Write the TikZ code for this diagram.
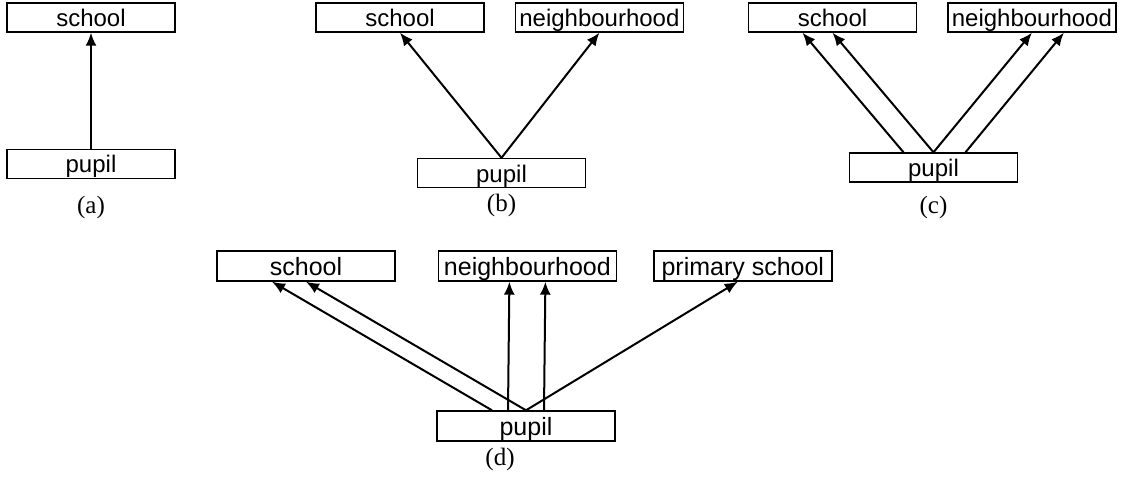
\documentclass[tikz,border=0pt]{standalone}
\usepackage{fontspec}
\setmainfont{Liberation Serif}
\setsansfont{Liberation Sans}
\usepackage{tikz}
\usetikzlibrary{arrows.meta,positioning}

\begin{document}
\begin{tikzpicture}[
  x=0.5pt, y=-0.5pt,
  box/.style={draw, line width=0.7pt, inner sep=0pt, minimum width=84pt, minimum height=14.5pt,
    text height=0.95em, text depth=0.05em, font=\sffamily\fontsize{12}{14}\selectfont},
  bigbox/.style={box, minimum width=89pt, minimum height=15pt, font=\sffamily\fontsize{12.5}{14}\selectfont},
  lbl/.style={inner sep=0pt, font=\fontsize{12.5}{14}\selectfont},
  arr/.style={-{Latex[length=6.5pt,width=5.5pt]}, line width=1pt}
]
\useasboundingbox (0,0) rectangle (1121,477);
% (a)
\node[box] (sA) at (91,17.5) {school};
\node[box, below=58pt of sA] (pA) {pupil};
\node[lbl] (lA) at (91,207) {(a)};
\draw[arr] (pA) -- (sA);
% (b)
\node[box] (sB) at (400,17.5) {school};
\node[box, right=15pt of sB] (nB) {neighbourhood};
\node[box] (pB) at (501.5,173) {pupil};
\node[lbl] (lB) at (501.5,205) {(b)};
\draw[arr] (pB.north) -- (sB.south);
\draw[arr] (pB.north) -- (nB.south);
% (c)
\node[box] (sC) at (832.5,17.5) {school};
\node[box, right=15pt of sC] (nC) {neighbourhood};
\node[box] (pC) at (933.5,167.5) {pupil};
\node[lbl] (lC) at (933.5,207) {(c)};
\draw[arr] ([xshift=-15pt]pC.north) -- ([xshift=-15pt]sC.south);
\draw[arr] (pC.north) -- (sC.south);
\draw[arr] (pC.north) -- (nC.south);
\draw[arr] ([xshift=16pt]pC.north) -- ([xshift=16pt]nC.south);
% (d)
\node[bigbox] (sD) at (306,266) {school};
\node[bigbox, right=21pt of sD] (nD) {neighbourhood};
\node[bigbox, right=18pt of nD] (psD) {primary school};
\node[bigbox] (pD) at (526,426) {pupil};
\node[lbl] (lD) at (500,459) {(d)};
\draw[arr] ([xshift=-17pt]pD.north) -- ([xshift=-17pt]sD.south);
\draw[arr] (pD.north) -- (sD.south);
\draw[arr] ([xshift=-9pt]pD.north) -- ([xshift=-9pt]nD.south);
\draw[arr] ([xshift=9pt]pD.north) -- ([xshift=9pt]nD.south);
\draw[arr] (pD.north) -- ([xshift=-2.5pt]psD.south);
\end{tikzpicture}
\end{document}
